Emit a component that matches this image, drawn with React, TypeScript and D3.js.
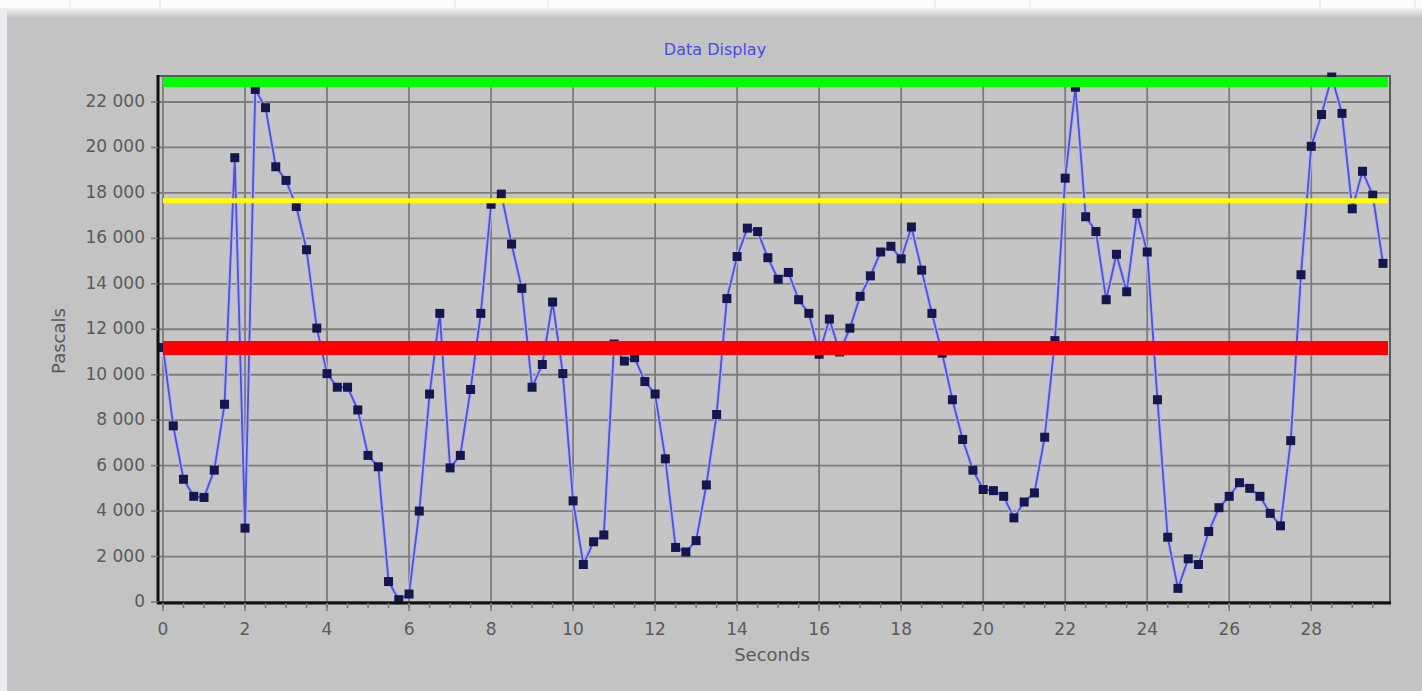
import { useMemo } from 'react';
import * as d3 from 'd3';

// pressure samples, one every 0.25 s starting at 0 s
const SAMPLE_STEP = 0.25;
const pascals = [
  11200, 7750, 5400, 4650, 4600, 5800, 8700, 19550,
  3250, 22550, 21750, 19150, 18550, 17400, 15500, 12050,
  10050, 9450, 9450, 8450, 6450, 5950, 900, 100,
  350, 4000, 9150, 12700, 5900, 6450, 9350, 12700,
  17500, 17950, 15750, 13800, 9450, 10450, 13200, 10050,
  4450, 1650, 2650, 2950, 11350, 10600, 10750, 9700,
  9150, 6300, 2400, 2200, 2700, 5150, 8250, 13350,
  15200, 16450, 16300, 15150, 14200, 14500, 13300, 12700,
  10900, 12450, 11000, 12050, 13450, 14350, 15400, 15650,
  15100, 16500, 14600, 12700, 10950, 8900, 7150, 5800,
  4950, 4900, 4650, 3700, 4400, 4800, 7250, 11500,
  18650, 22650, 16950, 16300, 13300, 15300, 13650, 17100,
  15400, 8900, 2850, 600, 1900, 1650, 3100, 4150,
  4650, 5250, 5000, 4650, 3900, 3350, 7100, 14400,
  20050, 21450, 23100, 21500, 17300, 18950, 17900, 14900,
];

const xTicks = [0, 2, 4, 6, 8, 10, 12, 14, 16, 18, 20, 22, 24, 26, 28];
const yTicks = [0, 2000, 4000, 6000, 8000, 10000, 12000, 14000, 16000, 18000, 20000, 22000];

// alarm levels drawn across the plot
const limits = [
  { name: 'high', value: 22880, color: '#00ff00', width: 10 },
  { name: 'warn', value: 17650, color: '#ffff00', width: 5 },
  { name: 'low', value: 11180, color: '#ff0000', width: 14 },
];

const WIDTH = 1422;
const HEIGHT = 691;
// frame of the plot area
const FRAME = { left: 158, right: 1390, top: 76, bottom: 603 };

const fmt = d3.formatLocale({
  decimal: '.',
  thousands: ' ',
  grouping: [3],
  currency: ['', ''],
}).format(',');

const FONT = '"DejaVu Sans", Verdana, sans-serif';
const LABEL = '#5a5a5a';

export default function App() {
  const data = useMemo(
    () => pascals.map((v, i) => ({ t: i * SAMPLE_STEP, v })),
    []
  );

  const xScale = d3
    .scaleLinear()
    .domain([0, d3.max(data, d => d.t)])
    .range([163, 1383]);
  const yScale = d3.scaleLinear().domain([0, 23100]).range([602, 77]);

  const line = d3
    .line()
    .x(d => xScale(d.t))
    .y(d => yScale(d.v));

  const minorTicks = d3.range(0, 29.8, 0.5);

  return (
    <svg
      width={WIDTH}
      height={HEIGHT}
      style={{ position: 'absolute', left: 0, top: 0 }}
      fontFamily={FONT}
    >
      <defs>
        <linearGradient id="band" x1="0" x2="0" y1="0" y2="1">
          <stop offset="0" stopColor="#f2f2f2" />
          <stop offset="1" stopColor="#c8c8c8" />
        </linearGradient>
      </defs>
      {/* window chrome */}
      <rect x={0} y={0} width={WIDTH} height={HEIGHT} fill="#c3c3c3" />
      <rect x={0} y={0} width={WIDTH} height={8} fill="#fbfbfb" />
      {[70, 160, 455, 548, 935, 1030, 1320, 1415].map(x => (
        <line key={x} x1={x} x2={x} y1={0} y2={8} stroke="#e2e2e2" />
      ))}
      <rect x={0} y={8} width={WIDTH} height={9} fill="url(#band)" />
      <rect x={0} y={8} width={7} height={HEIGHT - 8} fill="#ececf0" />

      <text
        x={715}
        y={50}
        textAnchor="middle"
        dominantBaseline="middle"
        fontSize={16}
        fill="#4a4ae6"
      >
        Data Display
      </text>

      {/* plot area */}
      <rect
        x={FRAME.left}
        y={FRAME.top}
        width={FRAME.right - FRAME.left}
        height={FRAME.bottom - FRAME.top}
        fill="#c5c5c5"
      />
      {yTicks.map(t => (
        <line
          key={'gy' + t}
          x1={FRAME.left}
          x2={FRAME.right}
          y1={yScale(t)}
          y2={yScale(t)}
          stroke="#7c7c7c"
          strokeWidth={1.8}
        />
      ))}
      {xTicks.map(t => (
        <line
          key={'gx' + t}
          x1={xScale(t)}
          x2={xScale(t)}
          y1={FRAME.top}
          y2={FRAME.bottom}
          stroke="#7c7c7c"
          strokeWidth={1.8}
        />
      ))}
      {/* top and right frame */}
      <path
        d={`M${FRAME.left},${FRAME.top}H${FRAME.right}V${FRAME.bottom}`}
        fill="none"
        stroke="#5a5a5a"
        strokeWidth={2}
      />

      {/* series */}
      <path
        d={line(data)}
        fill="none"
        stroke="#b4b4ee"
        strokeWidth={4}
        strokeLinejoin="round"
      />
      <path
        d={line(data)}
        fill="none"
        stroke="#5050d4"
        strokeWidth={1.8}
        strokeLinejoin="round"
      />
      {data.map((d, i) => (
        <rect
          key={i}
          x={xScale(d.t) - 4.5}
          y={yScale(d.v) - 4.5}
          width={9}
          height={9}
          fill="#16164e"
        />
      ))}

      {/* alarm levels */}
      {limits.map(l => (
        <line
          key={l.name}
          x1={xScale(0)}
          x2={FRAME.right - 2}
          y1={yScale(l.value)}
          y2={yScale(l.value)}
          stroke={l.color}
          strokeWidth={l.width}
        />
      ))}

      {/* axes */}
      <line
        x1={FRAME.left}
        x2={FRAME.left}
        y1={FRAME.top - 1}
        y2={FRAME.bottom + 1}
        stroke="#111"
        strokeWidth={3}
      />
      <line
        x1={FRAME.left - 1}
        x2={FRAME.right + 1}
        y1={FRAME.bottom}
        y2={FRAME.bottom}
        stroke="#111"
        strokeWidth={3}
      />
      {minorTicks.map(t => (
        <line
          key={'mx' + t}
          x1={xScale(t)}
          x2={xScale(t)}
          y1={FRAME.bottom}
          y2={FRAME.bottom + 5}
          stroke="#777"
          strokeWidth={1.5}
        />
      ))}
      {xTicks.map(t => (
        <g key={'xt' + t}>
          <line
            x1={xScale(t)}
            x2={xScale(t)}
            y1={FRAME.bottom}
            y2={FRAME.bottom + 8}
            stroke="#777"
            strokeWidth={1.5}
          />
          <text
            x={xScale(t)}
            y={630}
            textAnchor="middle"
            dominantBaseline="middle"
            fontSize={17}
            fill={LABEL}
          >
            {t}
          </text>
        </g>
      ))}
      {yTicks.map(t => (
        <g key={'yt' + t}>
          <line
            x1={FRAME.left - 7}
            x2={FRAME.left}
            y1={yScale(t)}
            y2={yScale(t)}
            stroke="#777"
            strokeWidth={1.5}
          />
          <text
            x={145}
            y={yScale(t)}
            textAnchor="end"
            dominantBaseline="middle"
            fontSize={17}
            fill={LABEL}
          >
            {fmt(t)}
          </text>
        </g>
      ))}

      <text
        x={772}
        y={656}
        textAnchor="middle"
        dominantBaseline="middle"
        fontSize={18}
        fill={LABEL}
      >
        Seconds
      </text>
      <text
        transform="translate(60,341) rotate(-90)"
        textAnchor="middle"
        dominantBaseline="middle"
        fontSize={18}
        fill={LABEL}
      >
        Pascals
      </text>
    </svg>
  );
}
